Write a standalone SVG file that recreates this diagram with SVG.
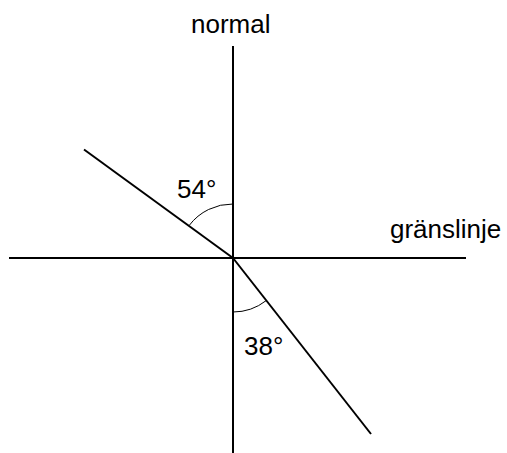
<svg xmlns="http://www.w3.org/2000/svg" width="507" height="453" viewBox="0 0 507 453">
<style>
.ln{stroke:#000;stroke-width:2;fill:none}
.arc{stroke:#000;stroke-width:1;fill:none}
.t{font-family:"Liberation Sans",Arial,sans-serif;font-size:26px;fill:#000}
</style>
<rect width="507" height="453" fill="#fff"/>
<g id="connectors">
<line id="normal-line" class="ln" x1="233" y1="46" x2="233" y2="453"/>
<line id="boundary-line" class="ln" x1="9" y1="258" x2="466" y2="258"/>
<line id="incident-ray" class="ln" x1="84" y1="149.5" x2="233" y2="258"/>
<line id="refracted-ray" class="ln" x1="233" y1="258" x2="371" y2="434"/>
</g>
<g id="angle-54">
<path class="arc" d="M189.3,225.3 A54,54 0 0 1 233,204"/>
<text class="t" x="177" y="198">54°</text>
</g>
<g id="angle-38">
<path class="arc" d="M233,312 A54,54 0 0 0 266.2,300.6"/>
<text class="t" x="244" y="355">38°</text>
</g>
<g id="label-normal"><text class="t" x="191" y="33">normal</text></g>
<g id="label-boundary"><text class="t" x="390" y="238">gränslinje</text></g>
</svg>
